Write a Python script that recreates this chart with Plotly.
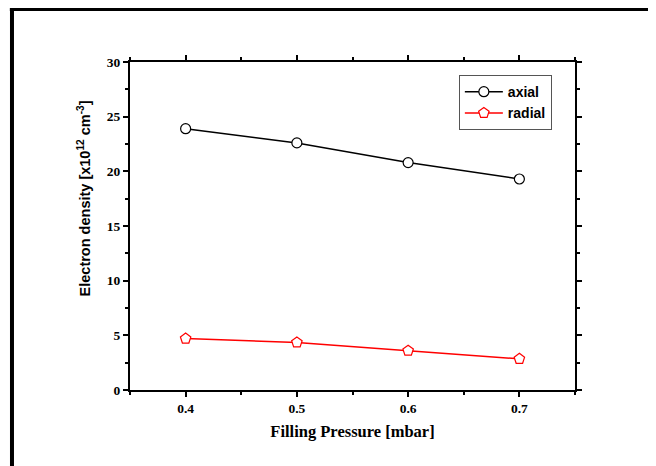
import plotly.graph_objects as go

pressure = [0.4, 0.5, 0.6, 0.7]
axial = [23.9, 22.6, 20.8, 19.3]
radial = [4.7, 4.35, 3.6, 2.85]
x_ticks = [0.4, 0.5, 0.6, 0.7]
y_ticks = [0, 5, 10, 15, 20, 25, 30]

fig = go.Figure()
fig.add_trace(go.Scatter(
    x=pressure, y=axial, name="<b>axial</b>", mode="lines+markers",
    line=dict(color="black", width=1.5),
    marker=dict(symbol="circle", size=10, color="white", line=dict(color="black", width=1.2)),
))
fig.add_trace(go.Scatter(
    x=pressure, y=radial, name="<b>radial</b>", mode="lines+markers",
    line=dict(color="red", width=1.5),
    marker=dict(symbol="pentagon", size=11, color="white", line=dict(color="red", width=1.2)),
))

tickfont = dict(family="Liberation Serif, Times New Roman, serif", size=13.5, color="black")
fig.update_xaxes(
    range=[0.35, 0.75], tickvals=x_ticks, ticktext=["<b>%s</b>" % v for v in x_ticks],
    showgrid=False, zeroline=False, showline=True, linecolor="black", linewidth=2,
    mirror="ticks", ticks="outside", ticklen=5, tickwidth=2, tickcolor="black",
    minor=dict(dtick=0.05, tick0=0.35, ticks="outside", ticklen=3, tickwidth=2, tickcolor="black"),
    tickfont=tickfont,
    title=dict(text="<b>Filling Pressure [mbar]</b>", standoff=10,
               font=dict(family="Liberation Serif, Times New Roman, serif", size=16.5, color="black")),
)
fig.update_yaxes(
    range=[0, 30], tickvals=y_ticks, ticktext=["<b>%s</b>" % v for v in y_ticks],
    showgrid=False, zeroline=False, showline=True, linecolor="black", linewidth=2,
    mirror="ticks", ticks="outside", ticklen=5, tickwidth=2, tickcolor="black",
    minor=dict(dtick=2.5, tick0=0, ticks="outside", ticklen=3, tickwidth=2, tickcolor="black"),
    tickfont=tickfont,
)

fig.update_layout(
    width=648, height=458,
    margin=dict(l=122, r=81, t=54, b=76),
    paper_bgcolor="white", plot_bgcolor="white",
    legend=dict(
        x=0.739, y=0.960, xanchor="left", yanchor="top",
        bgcolor="white", bordercolor="#555555", borderwidth=1,
        font=dict(family="Liberation Sans, Arial, sans-serif", size=14, color="black"),
        itemwidth=38, tracegroupgap=0,
    ),
    annotations=[
        dict(text="<b>Electron density [x10<sup>12</sup> cm<sup>-3</sup>]</b>",
             xref="paper", yref="paper", x=-0.1034, y=0.584, textangle=-90,
             showarrow=False, xanchor="center", yanchor="middle",
             font=dict(family="Liberation Sans, Arial, sans-serif", size=14.5, color="black")),
    ],
    shapes=[
        dict(type="line", xref="paper", yref="paper", x0=-0.2652, x1=-0.2652, y0=1.1616, y1=-0.35,
             line=dict(color="black", width=4)),
        dict(type="line", xref="paper", yref="paper", x0=-0.27, x1=1.25, y0=1.1616, y1=1.1616,
             line=dict(color="black", width=4)),
    ],
)
fig.write_html("out.html")
